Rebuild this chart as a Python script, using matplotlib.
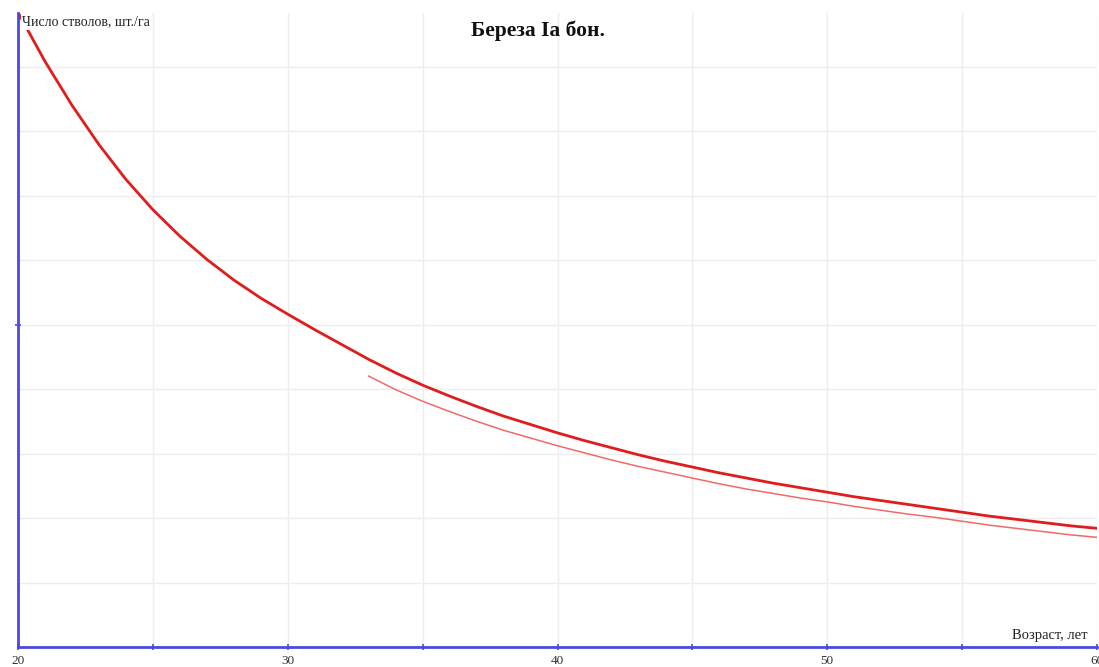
import matplotlib
matplotlib.use("Agg")
import matplotlib.pyplot as plt

# Birch, site class Ia: number of stems (thousand per ha) by stand age
age_main = list(range(20, 61))
stems_main = [9.84, 9.08, 8.40, 7.79, 7.25, 6.78, 6.37, 6.01, 5.69, 5.41,
              5.16, 4.92, 4.69, 4.46, 4.25, 4.06, 3.89, 3.73, 3.58, 3.45,
              3.32, 3.20, 3.09, 2.98, 2.88, 2.79, 2.70, 2.62, 2.54, 2.47,
              2.40, 2.33, 2.27, 2.21, 2.15, 2.09, 2.03, 1.98, 1.93, 1.88,
              1.84]

age_alt = list(range(33, 61))
stems_alt = [4.20, 3.99, 3.81, 3.65, 3.50, 3.36, 3.24, 3.12, 3.01, 2.90,
             2.80, 2.71, 2.62, 2.53, 2.45, 2.38, 2.31, 2.25, 2.18, 2.12,
             2.06, 2.01, 1.95, 1.89, 1.84, 1.79, 1.74, 1.70]

x_ticks = [20, 30, 40, 50, 60]
x_grid = [25, 35, 45, 55]
y_grid = [1, 2, 3, 4, 6, 7, 8, 9]
title = "Береза Iа бон."
y_title = "Число стволов, шт./га"
x_title = "Возраст, лет"

serif = ["Liberation Serif", "DejaVu Serif"]
axis_blue = "#4a4ae0"

W, H = 1099, 667
fig = plt.figure(figsize=(W / 100, H / 100), dpi=100)
left, right, bottom, top = 18, 1097, 647, 13
ax = fig.add_axes([left / W, (H - bottom) / H, (right - left) / W, (bottom - top) / H])

ax.plot(age_main, stems_main, color="#e01c1c", lw=2.0, solid_capstyle="round",
        solid_joinstyle="round", zorder=3)
ax.plot(age_alt, stems_alt, color="#f06a6a", lw=1.1, solid_joinstyle="round", zorder=3)

ax.set_xlim(20, 60)
ax.set_ylim(0, 9.83)

ax.set_xticks(x_ticks)
ax.set_xticks(x_grid, minor=True)
ax.set_yticks([5])
ax.set_yticks(y_grid, minor=True)
ax.grid(True, which="both", color="#ededed", lw=1.0)
ax.set_axisbelow(True)

for s in ("top", "right"):
    ax.spines[s].set_visible(False)
for s in ("left", "bottom"):
    ax.spines[s].set_color(axis_blue)
    ax.spines[s].set_linewidth(2.0)
    ax.spines[s].set_zorder(4)

ax.set_yticklabels([])
ax.tick_params(axis="y", which="major", direction="inout", length=4,
               color=axis_blue, width=1.2)
ax.tick_params(axis="y", which="minor", length=0)
ax.tick_params(axis="x", which="both", direction="inout", length=4,
               color=axis_blue, width=1.2, pad=4)
ax.set_xticklabels([str(v) for v in x_ticks], fontfamily=serif, fontsize=9.5,
                   color="#333333")

fig.text(538 / W, 1 - 31 / H, title, ha="center", va="center",
         fontfamily=serif, fontsize=15.5, fontweight="bold", color="#111111")
ax.text(22 / W, 1 - 22 / H, y_title, transform=fig.transFigure, ha="left",
        va="center", fontfamily=serif, fontsize=10, color="#222222", zorder=5,
        bbox=dict(facecolor="white", edgecolor="none", pad=1.0))
fig.text(1088 / W, 1 - 635 / H, x_title, ha="right", va="center",
         fontfamily=serif, fontsize=10.5, color="#222222")

fig.savefig("out.png", dpi=100, facecolor="white")
